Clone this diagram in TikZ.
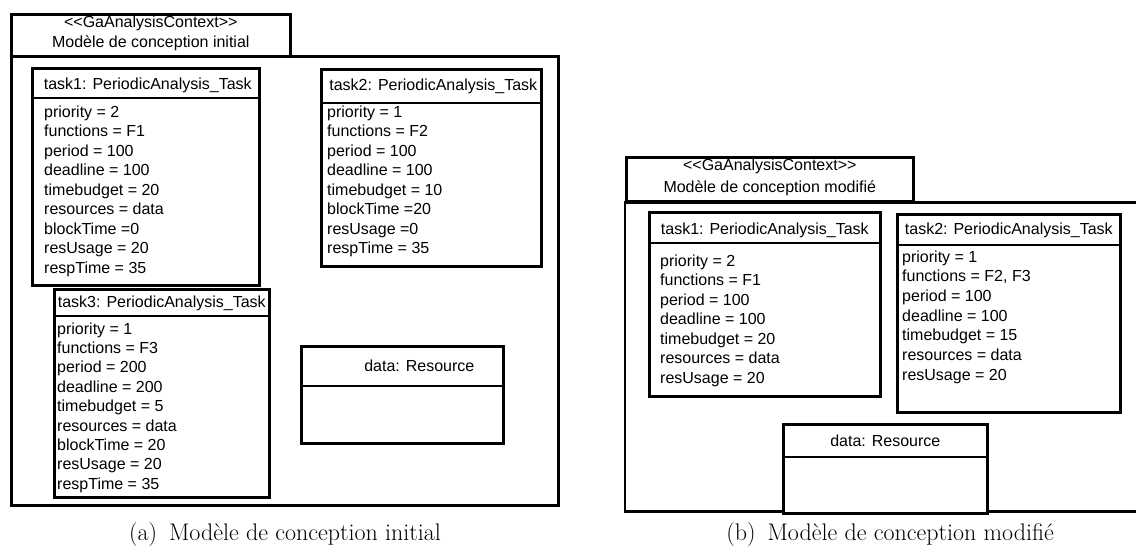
\documentclass[tikz,border=0pt]{standalone}
\usepackage{fontspec}
\usetikzlibrary{positioning,calc}
\newfontfamily\umlfont{Liberation Sans}
\definecolor{lineColor}{RGB}{0,0,0}

\begin{document}
\begin{tikzpicture}[
  x=1pt, y=-1pt,
  font=\umlfont\fontsize{16}{19.5}\selectfont,
  hdr/.style={draw=lineColor, line width=2.6pt, anchor=north west, inner sep=0pt, fill=white},
  ctxframe/.style={draw=lineColor, line width=2.6pt, anchor=north west, inner sep=0pt},
  ctxline/.style={draw=lineColor, line width=2.6pt},
  obj/.style={draw=lineColor, line width=2.6pt, anchor=north west, inner sep=0pt, fill=white},
  divider/.style={draw=lineColor, line width=1.2pt},
  hdrtext/.style={anchor=base, inner sep=0pt},
  objname/.style={anchor=base, inner sep=0pt},
  attr/.style={anchor=base west, inner sep=0pt},
  caption/.style={font=\rmfamily\fontsize{24}{28}\selectfont, anchor=base, inner sep=0pt}
]
\useasboundingbox[fill=white] (0,0) rectangle (1136,552);

% Panel (a)
\node[ctxframe, minimum width=547pt, minimum height=449pt] (ctxa) at (10,55) {};
\node[hdr, minimum width=279pt, minimum height=42pt] (hdra) at (10,13) {};
\node[hdrtext] (hdra1) at ($(hdra.north)+(0,14)$) {<\kern0pt<GaAnalysisContext>\kern0pt>};
\node[hdrtext] (hdra2) at ($(hdra.north)+(0,34)$) {Modèle de conception initial};

% task1
\node[obj, minimum width=227pt, minimum height=217pt] (t1a) at (31,67) {};
\draw[divider] ($(t1a.north west)+(0,31)$) -- ($(t1a.north east)+(0,31)$);
\node[objname] (t1aname) at ($(t1a.north)+(2,22)$) {task1: PeriodicAnalysis\_Task};
\foreach \txt [count=\i from 0] in {priority = 2, functions = F1, period = 100, deadline = 100,
    timebudget = 20, resources = data, blockTime =0, resUsage = 20, respTime = 35}
  \node[attr] (t1a-\i) at ($(t1a.north west)+(13,50+19.5*\i)$) {\txt};

% task2
\node[obj, minimum width=220pt, minimum height=197pt] (t2a) at (320,68) {};
\draw[divider] ($(t2a.north west)+(0,35)$) -- ($(t2a.north east)+(0,35)$);
\node[objname] (t2aname) at ($(t2a.north)+(2,22)$) {task2: PeriodicAnalysis\_Task};
\foreach \txt [count=\i from 0] in {priority = 1, functions = F2, period = 100, deadline = 100,
    timebudget = 10, blockTime =20, resUsage =0, respTime = 35}
  \node[attr] (t2a-\i) at ($(t2a.north west)+(7,49+19.5*\i)$) {\txt};

% task3
\node[obj, minimum width=215pt, minimum height=208pt] (t3a) at (53,288) {};
\draw[divider] ($(t3a.north west)+(0,28)$) -- ($(t3a.north east)+(0,28)$);
\node[objname] (t3aname) at ($(t3a.north)+(0,19)$) {task3: PeriodicAnalysis\_Task};
\foreach \txt [count=\i from 0] in {priority = 1, functions = F3, period = 200, deadline = 200,
    timebudget = 5, resources = data, blockTime = 20, resUsage = 20, respTime = 35}
  \node[attr] (t3a-\i) at ($(t3a.north west)+(4,46+19.4*\i)$) {\txt};

% data
\node[obj, minimum width=202pt, minimum height=97pt] (resa) at (300,345) {};
\draw[divider] ($(resa.north west)+(0,41)$) -- ($(resa.north east)+(0,41)$);
\node[objname] (resaname) at ($(resa.north)+(17,26)$) {data: Resource};

\node[caption] (capa) at (285,540) {(a)\enspace Modèle de conception initial};

% Panel (b)
\node[hdr, minimum width=287pt, minimum height=44pt] (hdrb) at (625,156) {};
\draw[ctxline] ($(hdrb.south west)+(516,0)$) -- (hdrb.south west) -- ++(0,309) -- ++(516,0);
\node[hdrtext] (hdrb1) at ($(hdrb.north)+(0,14)$) {<\kern0pt<GaAnalysisContext>\kern0pt>};
\node[hdrtext] (hdrb2) at ($(hdrb.north)+(0,36)$) {Modèle de conception modifié};

% task1
\node[obj, minimum width=231pt, minimum height=184pt] (t1b) at (648,211) {};
\draw[divider] ($(t1b.north west)+(0,32)$) -- ($(t1b.north east)+(0,32)$);
\node[objname] (t1bname) at ($(t1b.north)+(0,23)$) {task1: PeriodicAnalysis\_Task};
\foreach \txt [count=\i from 0] in {priority = 2, functions = F1, period = 100, deadline = 100,
    timebudget = 20, resources = data, resUsage = 20}
  \node[attr] (t1b-\i) at ($(t1b.north west)+(12,55+19.5*\i)$) {\txt};

% task2
\node[obj, minimum width=223pt, minimum height=198pt] (t2b) at (896,213) {};
\draw[divider] ($(t2b.north west)+(0,32)$) -- ($(t2b.north east)+(0,32)$);
\node[objname] (t2bname) at ($(t2b.north)+(0,21)$) {task2: PeriodicAnalysis\_Task};
\foreach \txt [count=\i from 0] in {priority = 1, {functions = F2, F3}, period = 100, deadline = 100,
    timebudget = 15, resources = data, resUsage = 20}
  \node[attr] (t2b-\i) at ($(t2b.north west)+(6,49+19.7*\i)$) {\txt};

% data
\node[obj, minimum width=204pt, minimum height=89pt] (resb) at (782,423) {};
\draw[divider] ($(resb.north west)+(0,34)$) -- ($(resb.north east)+(0,34)$);
\node[objname] (resbname) at ($(resb.north)+(0,23)$) {data: Resource};

\node[caption] (capb) at (890,540) {(b)\enspace Modèle de conception modifié};

\end{tikzpicture}
\end{document}
